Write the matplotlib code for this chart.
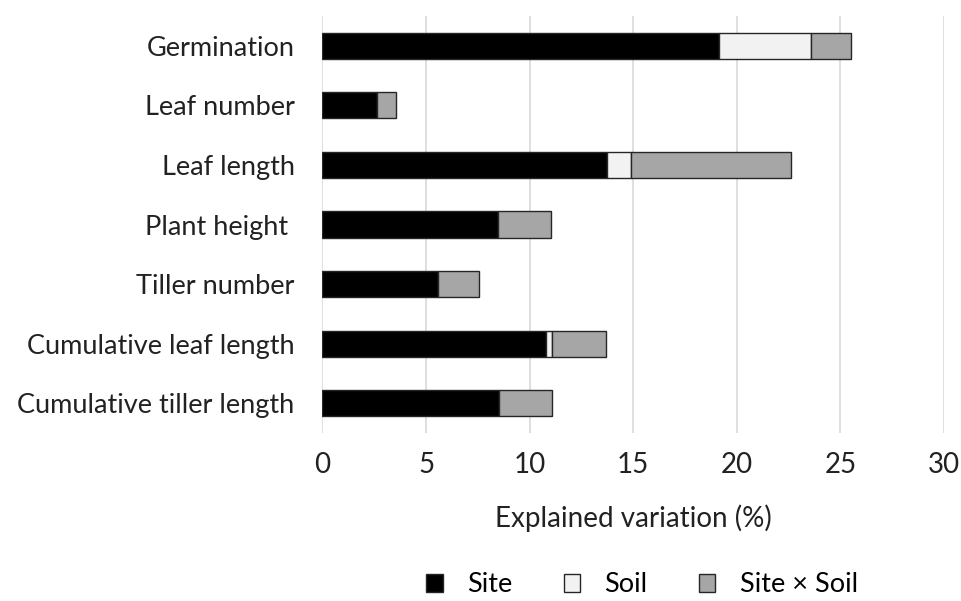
import matplotlib
matplotlib.use("Agg")
import matplotlib.pyplot as plt
import numpy as np

categories = ["Germination", "Leaf number", "Leaf length", "Plant height ",
              "Tiller number", "Cumulative leaf length", "Cumulative tiller length"]
site = [19.13, 2.65, 13.73, 8.46, 5.58, 10.78, 8.52]
soil = [4.45, 0.0, 1.18, 0.0, 0.0, 0.29, 0.0]
site_soil = [1.92, 0.90, 7.69, 2.56, 1.97, 2.62, 2.58]
series_names = ["Site", "Soil", "Site × Soil"]
colors = ["#000000", "#f2f2f2", "#a6a6a6"]
xticks = [0, 5, 10, 15, 20, 25, 30]

plt.rcParams['font.family'] = ['Lato', 'DejaVu Sans']

fig = plt.figure(figsize=(9.62, 6.01), dpi=100)
ax = fig.add_axes([322.5 / 962, 1 - 433 / 601, (944 - 322.5) / 962, (433 - 16) / 601])

y = np.arange(len(categories))
left = np.zeros(len(categories))
handles = []
for vals, name, col in zip([site, soil, site_soil], series_names, colors):
    vals = np.array(vals)
    mask = vals > 0
    b = ax.barh(y[mask], vals[mask], left=left[mask], height=0.44, color=col,
                edgecolor="#262626", linewidth=1.0, label=name, zorder=3)
    handles.append(b)
    left = left + vals

ax.set_xlim(0, 30)
ax.set_ylim(len(categories) - 0.5, -0.5)
ax.set_yticks(y)
ax.set_yticklabels(categories, fontsize=19.5, color="#222222")
ax.set_xticks(xticks)
ax.set_xticklabels([str(t) for t in xticks], fontsize=20, color="#222222")
ax.tick_params(axis='both', length=0)
ax.tick_params(axis='y', pad=20)
ax.tick_params(axis='x', pad=14)
ax.grid(axis='x', color="#d9d9d9", linewidth=1.2, zorder=0)
for s in ax.spines.values():
    s.set_visible(False)
ax.set_xlabel("Explained variation (%)", fontsize=20, color="#222222", labelpad=19)

fig.legend(handles=handles, labels=series_names, loc="center",
           bbox_to_anchor=(642 / 962, 1 - 585 / 601), ncol=3, frameon=False,
           fontsize=19.5, handlelength=0.6, handleheight=0.6, columnspacing=1.9,
           handletextpad=0.9)

fig.savefig("out.png", dpi=100, facecolor="white")
